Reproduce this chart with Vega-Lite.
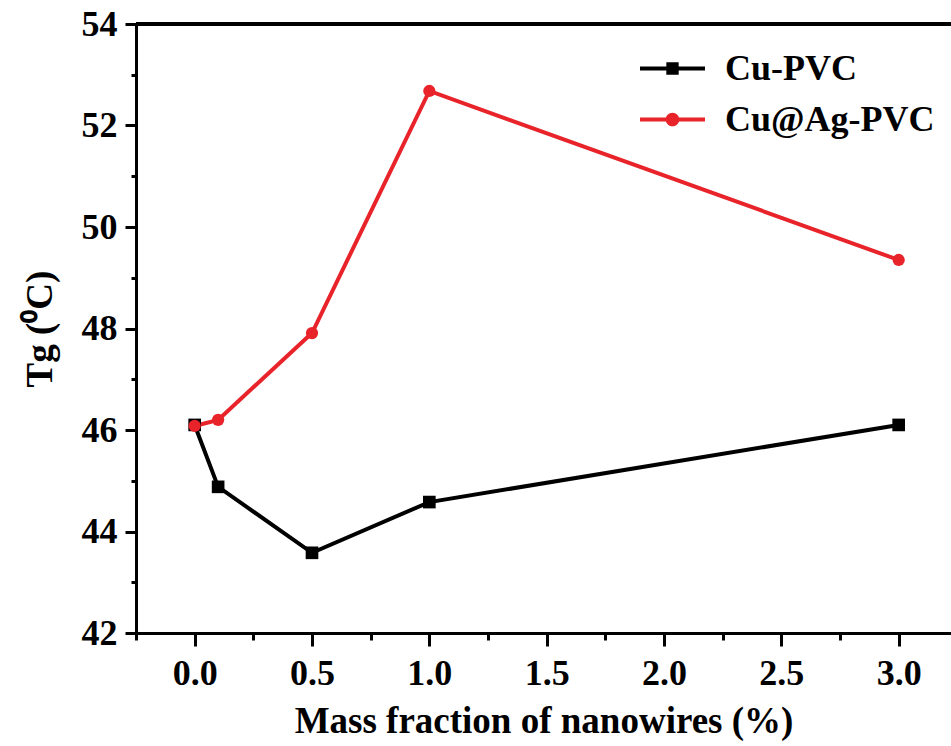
{
  "$schema": "https://vega.github.io/schema/vega-lite/v6.json",
  "autosize": "none",
  "width": 815,
  "height": 609,
  "padding": {"left": 136, "top": 24, "right": 0, "bottom": 113},
  "background": "white",
  "config": {
    "view": {"stroke": null},
    "font": "Liberation Serif",
    "axis": {"domainColor": "black", "domainWidth": 3, "tickColor": "black", "tickWidth": 3, "labelColor": "black", "titleColor": "black", "grid": false, "labelFont": "Liberation Serif", "titleFont": "Liberation Serif", "labelFontWeight": "bold", "titleFontWeight": "bold", "labelFontSize": 36, "titleFontSize": 37}
  },
  "data": {"values": [
    {"series": "Cu-PVC", "x": 0.0, "tg": 46.1},
    {"series": "Cu-PVC", "x": 0.1, "tg": 44.88},
    {"series": "Cu-PVC", "x": 0.5, "tg": 43.58},
    {"series": "Cu-PVC", "x": 1.0, "tg": 44.58},
    {"series": "Cu-PVC", "x": 3.0, "tg": 46.1},
    {"series": "Cu@Ag-PVC", "x": 0.0, "tg": 46.08},
    {"series": "Cu@Ag-PVC", "x": 0.1, "tg": 46.2},
    {"series": "Cu@Ag-PVC", "x": 0.5, "tg": 47.91},
    {"series": "Cu@Ag-PVC", "x": 1.0, "tg": 52.68},
    {"series": "Cu@Ag-PVC", "x": 3.0, "tg": 49.35}
  ]},
  "layer": [
    {
      "mark": {"type": "rule", "strokeWidth": 3, "color": "black"},
      "encoding": {"y": {"datum": 54, "type": "quantitative", "scale": {"domain": [42, 54], "nice": false}}}
    },
    {
      "mark": {"type": "line", "strokeWidth": 4},
      "encoding": {
        "x": {"field": "x", "type": "quantitative", "scale": {"domain": [-0.25, 3.223], "nice": false, "zero": false},
          "axis": {"title": "Mass fraction of nanowires (%)", "values": [-0.25, 0, 0.25, 0.5, 0.75, 1, 1.25, 1.5, 1.75, 2, 2.25, 2.5, 2.75, 3],
            "labelExpr": "abs(datum.value*2 - round(datum.value*2)) < 0.001 ? format(datum.value, '.1f') : ''",
            "tickSize": {"condition": {"test": "abs(datum.value*2 - round(datum.value*2)) < 0.001", "value": 13}, "value": 7},
            "labelPadding": 10, "titlePadding": 12, "labelFlush": false, "labelOverlap": false}},
        "y": {"field": "tg", "type": "quantitative", "scale": {"domain": [42, 54], "nice": false, "zero": false},
          "axis": {"title": "Tg (⁰C)", "values": [42, 43, 44, 45, 46, 47, 48, 49, 50, 51, 52, 53, 54],
            "labelExpr": "datum.value % 2 === 0 ? format(datum.value, 'd') : ''",
            "tickSize": {"condition": {"test": "datum.value % 2 === 0", "value": 11}, "value": 5},
            "labelPadding": 8, "titlePadding": 22, "labelFlush": false, "labelOverlap": false}},
        "color": {"field": "series", "type": "nominal", "scale": {"domain": ["Cu-PVC", "Cu@Ag-PVC"], "range": ["#000000", "#e8232a"]},
          "legend": {"title": null, "orient": "none", "legendX": 504, "legendY": 12,
            "labelFont": "Liberation Serif", "labelFontWeight": "bold", "labelFontSize": 36, "labelColor": "black", "labelLimit": 400,
            "symbolSize": 4225, "rowPadding": -4, "labelOffset": 20,
            "encode": {"symbols": {"update": {
              "shape": {"signal": "datum.value === 'Cu-PVC' ? 'M-1,-0.065H-0.18V0.065H-1Z M0.18,-0.065H1V0.065H0.18Z M-0.19,-0.19H0.19V0.19H-0.19Z' : 'M-1,-0.065H-0.2V0.065H-1Z M0.2,-0.065H1V0.065H0.2Z M0.21,0 A0.21,0.21 0 1,1 -0.21,0 A0.21,0.21 0 1,1 0.21,0 Z'"},
              "size": {"value": 4225},
              "strokeWidth": {"value": 0},
              "fill": {"scale": "color", "field": "value"},
              "fillOpacity": {"value": 1}
            }}}}}
      }
    },
    {
      "transform": [{"filter": "datum.series === 'Cu-PVC'"}],
      "mark": {"type": "point", "filled": true, "opacity": 1, "size": 160, "shape": "square"},
      "encoding": {
        "x": {"field": "x", "type": "quantitative"},
        "y": {"field": "tg", "type": "quantitative"},
        "color": {"field": "series", "type": "nominal"}
      }
    },
    {
      "transform": [{"filter": "datum.series === 'Cu@Ag-PVC'"}],
      "mark": {"type": "point", "filled": true, "opacity": 1, "size": 150, "shape": "circle"},
      "encoding": {
        "x": {"field": "x", "type": "quantitative"},
        "y": {"field": "tg", "type": "quantitative"},
        "color": {"field": "series", "type": "nominal"}
      }
    }
  ]
}
